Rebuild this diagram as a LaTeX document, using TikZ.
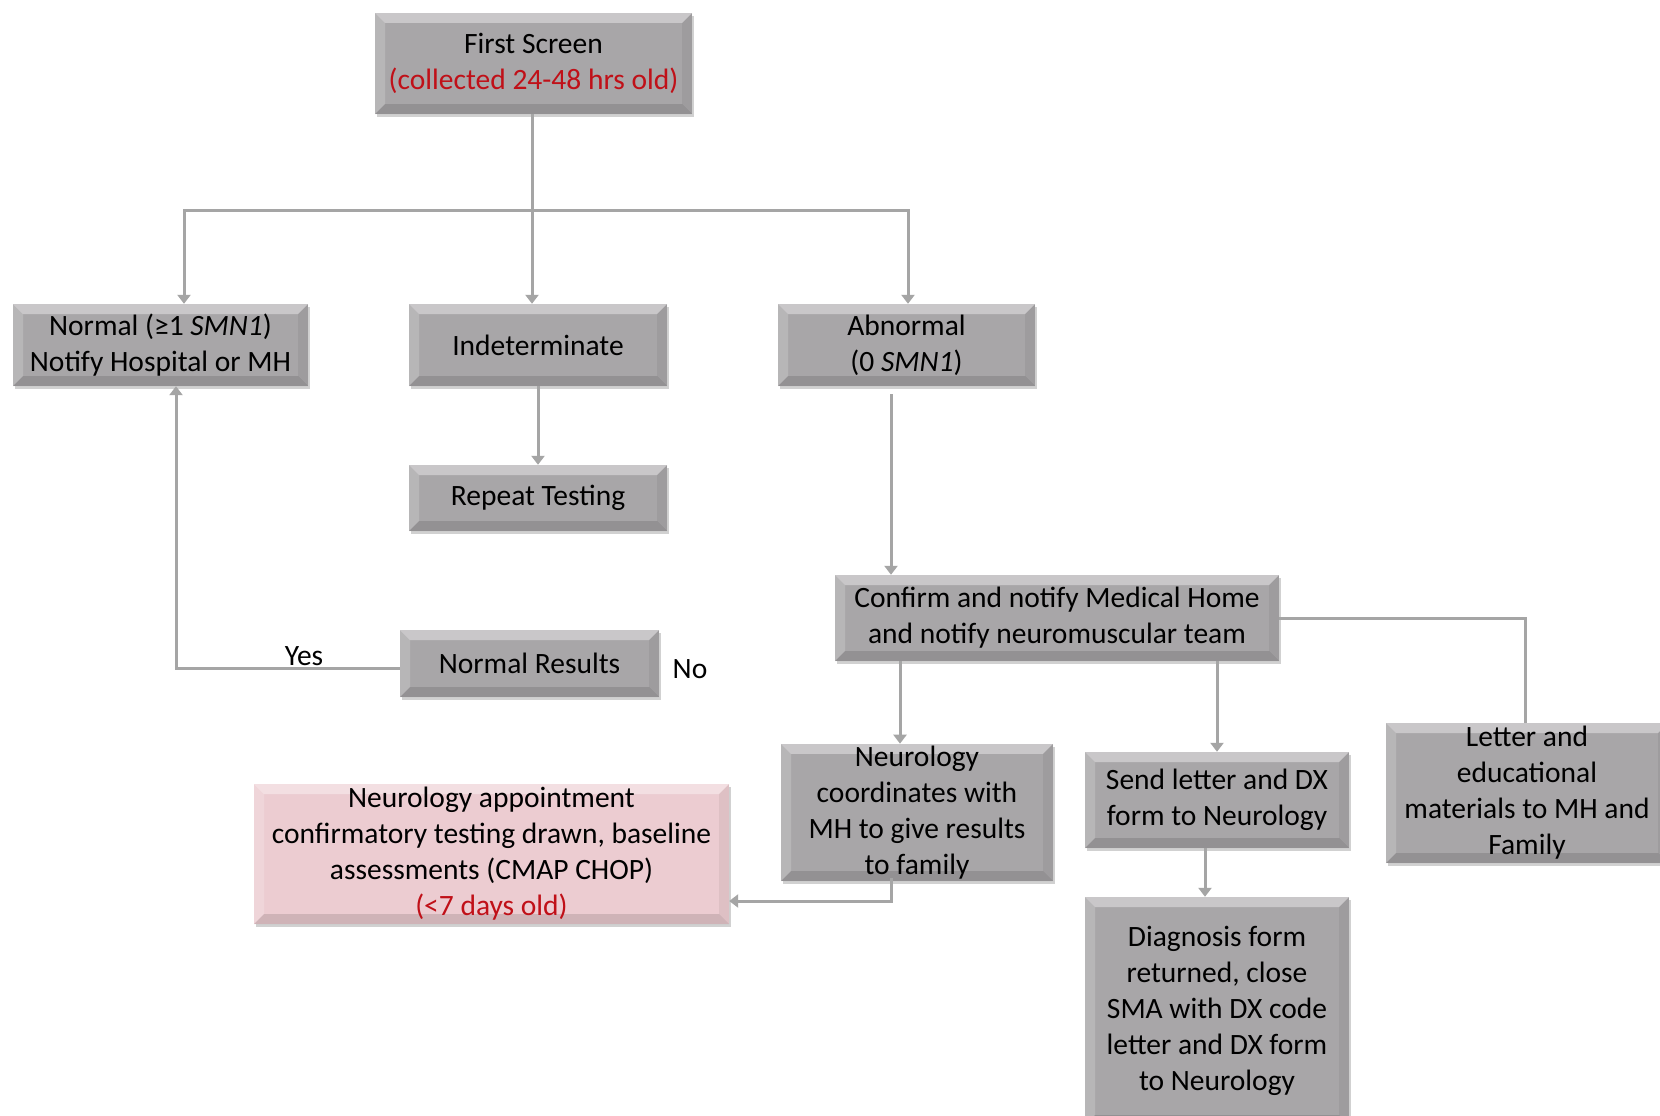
\documentclass[tikz,border=0pt]{standalone}
\usepackage{fontspec}
\setmainfont{Carlito}
\usetikzlibrary{shadows,arrows.meta}
\definecolor{boxgray}{RGB}{168,166,168}
\definecolor{pinkbox}{RGB}{236,204,209}
\definecolor{linegray}{RGB}{165,165,165}
\definecolor{redtxt}{RGB}{192,16,24}
\newcommand{\fs}{\fontsize{29.5}{36}\selectfont}
\tikzset{
  bevel/.style={path picture={
    \fill[white,opacity=.38] (path picture bounding box.north west) -- (path picture bounding box.north east) -- ([shift={(-10pt,-10pt)}]path picture bounding box.north east) -- ([shift={(10pt,-10pt)}]path picture bounding box.north west) -- cycle;
    \fill[white,opacity=.18] (path picture bounding box.north west) -- (path picture bounding box.south west) -- ([shift={(10pt,10pt)}]path picture bounding box.south west) -- ([shift={(10pt,-10pt)}]path picture bounding box.north west) -- cycle;
    \fill[black,opacity=.06] (path picture bounding box.north east) -- (path picture bounding box.south east) -- ([shift={(-10pt,10pt)}]path picture bounding box.south east) -- ([shift={(-10pt,-10pt)}]path picture bounding box.north east) -- cycle;
    \fill[black,opacity=.12] (path picture bounding box.south west) -- (path picture bounding box.south east) -- ([shift={(-10pt,10pt)}]path picture bounding box.south east) -- ([shift={(10pt,10pt)}]path picture bounding box.south west) -- cycle;
  }},
  box/.style={fill=boxgray, bevel, align=center, font=\fs, inner sep=2pt,
    drop shadow={shadow xshift=2pt, shadow yshift=-3pt, opacity=.18, fill=black}},
  pbox/.style={box, fill=pinkbox},
  conn/.style={draw=linegray, line width=3pt},
  arr/.style={conn, -{Triangle[width=13pt,length=9pt]}},
  lbl/.style={font=\fs, inner sep=0pt}
}
\begin{document}
\begin{tikzpicture}[x=1pt,y=-1pt]
\useasboundingbox (0,0) rectangle (1660,1116);
\fill[white] (0,0) rectangle (1660,1116);
\clip (0,0) rectangle (1660,1116);

\node[box, minimum width=317pt, minimum height=101pt] (first) at (533.5,63.5)
  {First Screen\\\textcolor{redtxt}{(collected 24-48 hrs old)}};
\node[box, minimum width=295pt, minimum height=82pt] (normal) at (160.5,345)
  {Normal (≥1 \textit{SMN1})\\Notify Hospital or MH};
\node[box, minimum width=258pt, minimum height=82pt] (indet) at (538,345) {Indeterminate};
\node[box, minimum width=257pt, minimum height=82pt] (abn) at (906.5,345) {Abnormal\\(0 \textit{SMN1})};
\node[box, minimum width=258pt, minimum height=66pt] (repeat) at (538,498) {Repeat Testing};
\node[box, minimum width=444pt, minimum height=86pt] (confirm) at (1057,618)
  {Confirm and notify Medical Home\\and notify neuromuscular team};
\node[box, minimum width=259pt, minimum height=67pt] (normres) at (529.5,663.5) {Normal Results};
\node[box, minimum width=272pt, minimum height=131pt] (neuro) at (917,812.5)
  {Neurology\\coordinates with\\MH to give results\\to family};
\node[box, minimum width=264pt, minimum height=96pt] (send) at (1217,800)
  {Send letter and DX\\form to Neurology};
\node[box, minimum width=282pt, minimum height=140pt] (letter) at (1527,793)
  {Letter and\\educational\\materials to MH and\\Family};
\node[pbox, minimum width=475pt, minimum height=140pt] (appt) at (491.5,854)
  {Neurology appointment\\confirmatory testing drawn, baseline\\assessments (CMAP CHOP)\\\textcolor{redtxt}{(<7 days old)}};
\node[box, minimum width=264pt, minimum height=228pt] (diag) at (1217,1011)
  {Diagnosis form\\returned, close\\SMA with DX code\\letter and DX form\\to Neurology};

\node[lbl] (yes) at (304,656) {Yes};
\node[lbl] (no) at (690,669) {No};

% connectors
\coordinate (j) at (532,210);
\coordinate (jl) at (184,210);
\coordinate (jr) at (908,210);
\draw[conn] (first.south -| j) -- (j);
\draw[arr] (j) -- (jl) -- (jl |- normal.north);
\draw[arr] (j) -- (j |- indet.north);
\draw[arr] (j) -- (jr) -- (jr |- abn.north);
\draw[arr] (indet.south) -- (repeat.north);
\coordinate (a1) at (891,394);
\draw[arr] (a1) -- (a1 |- confirm.north);
\coordinate (c1) at (900,661);
\draw[arr] (c1) -- (c1 |- neuro.north);
\draw[arr] (confirm.south -| send) -- (send.north);
\coordinate (c2) at (1525,618);
\draw[conn] (confirm.east |- c2) -- (c2) -- (c2 |- letter.north);
\coordinate (s1) at (1205,848);
\draw[arr] (s1) -- (s1 |- diag.north);
\coordinate (n1) at (891,878);
\coordinate (n2) at (891,901);
\draw[arr] (n1) -- (n2) -- (appt.east |- n2);
\coordinate (r1) at (176,668);
\draw[arr] (normres.west |- r1) -- (r1) -- (r1 |- normal.south);
\end{tikzpicture}
\end{document}
